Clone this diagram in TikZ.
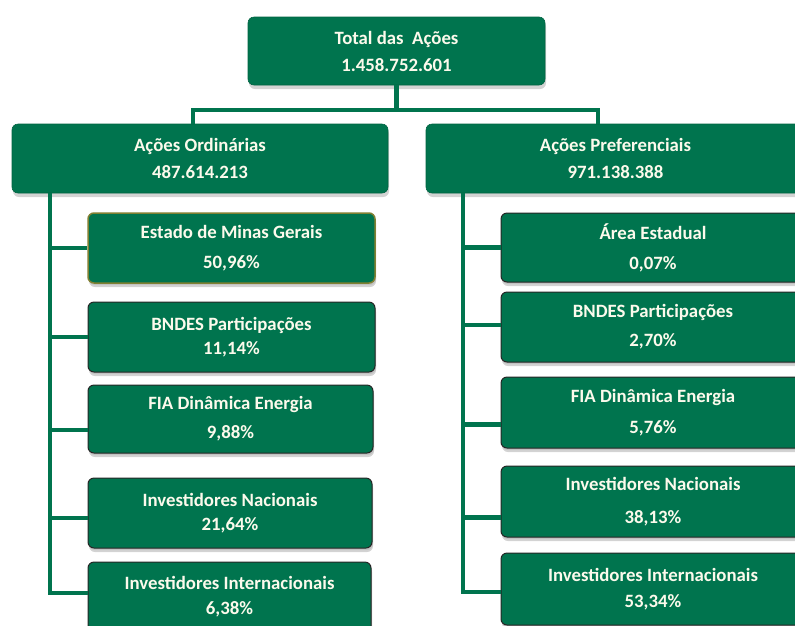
\documentclass[tikz,border=0pt]{standalone}
\usepackage{fontspec}
\setmainfont{Carlito}
\usetikzlibrary{positioning, shadows}
\definecolor{share_green}{RGB}{0, 116, 78}
\definecolor{cream_white}{RGB}{252, 250, 236}
\definecolor{olive_edge}{RGB}{128, 128, 50}

\tikzset{
	headbox/.style={rectangle, rounded corners=6pt, fill=share_green, draw=share_green!85!black, line width=0.6pt,
		text=cream_white, align=center, font=\bfseries\fontsize{18.8}{27}\selectfont,
		drop shadow={opacity=0.35, shadow xshift=1pt, shadow yshift=-4pt}},
	itembox/.style={headbox, draw=black!85, line width=1pt,
		drop shadow={opacity=0.2, shadow xshift=1pt, shadow yshift=-2pt}},
	link/.style={draw=share_green, line width=4.5pt}
}

\begin{document}
\begin{tikzpicture}[x=1pt, y=-1pt]
				\useasboundingbox (0,0) rectangle (795,625);
				
				% top box
				\node[headbox, minimum width=297pt, minimum height=68pt] (total) at (396.5,51) {Total das~~Ações\\1.458.752.601};
				
				% ordinary / preferred
				\node[headbox, minimum width=376pt, minimum height=69pt] (ord) at (200,158.5) {Ações Ordinárias\\487.614.213};
				\node[headbox, minimum width=379pt, minimum height=69pt] (pref) at (615.5,158.5) {Ações Preferenciais\\971.138.388};
				
				% holders of ordinary shares
				\node[itembox, draw=olive_edge, line width=1.5pt, minimum width=287pt, minimum height=70pt] (est1) at (231.5,248) {Estado de Minas Gerais\\[3pt]50,96\%};
				\node[itembox, minimum width=287pt, minimum height=70pt] (bnd1) at (231.5,337) {BNDES Participações\\[-3pt]11,14\%};
				\node[itembox, minimum width=285pt, minimum height=68pt] (fia1) at (230.5,419) {FIA Dinâmica Energia\\[2pt]9,88\%};
				\node[itembox, minimum width=284pt, minimum height=70pt] (nac1) at (230,513) {Investidores Nacionais\\[-3pt]21,64\%};
				\node[itembox, minimum width=283pt, minimum height=70pt] (int1) at (229.5,597) {Investidores Internacionais\\[-2pt]6,38\%};
				
				% holders of preferred shares
				\node[itembox, minimum width=304pt, minimum height=69pt] (est2) at (653,247.5) {Área Estadual\\[3pt]0,07\%};
				\node[itembox, minimum width=304pt, minimum height=70pt] (bnd2) at (653,327) {BNDES Participações\\[2pt]2,70\%};
				\node[itembox, minimum width=304pt, minimum height=71pt] (fia2) at (653,412.5) {FIA Dinâmica Energia\\[4pt]5,76\%};
				\node[itembox, minimum width=304pt, minimum height=71pt] (nac2) at (653,501.5) {Investidores Nacionais\\[6pt]38,13\%};
				\node[itembox, minimum width=304pt, minimum height=72pt] (int2) at (653,589) {Investidores Internacionais\\[-1pt]53,34\%};
				
				% connectors from the top
				\coordinate (dropL) at (193,110);
				\coordinate (dropR) at (598,110);
				\draw[link] (total.south) -- (total.south |- dropL);
				\draw[link] (dropL |- ord.north) -- (dropL) -- (dropR) -- (dropR |- pref.north);
				
				% trunks
				\coordinate (trunkL) at (50,193);
				\coordinate (trunkR) at (463,193);
				\draw[link] (trunkL) |- (est1.west);
				\draw[link] (trunkL) |- (bnd1.west);
				\draw[link] (trunkL) |- ([yshift=-11pt]fia1.west);
				\draw[link] (trunkL) |- ([yshift=-5pt]nac1.west);
				\draw[link] (trunkL) |- ([yshift=4pt]int1.west);
				
				\draw[link] (trunkR) |- (est2.west);
				\draw[link] (trunkR) |- ([yshift=2pt]bnd2.west);
				\draw[link] (trunkR) |- ([yshift=-12pt]fia2.west);
				\draw[link] (trunkR) |- ([yshift=-16pt]nac2.west);
				\draw[link] (trunkR) |- ([yshift=-3pt]int2.west);
				
\end{tikzpicture}
\end{document}
